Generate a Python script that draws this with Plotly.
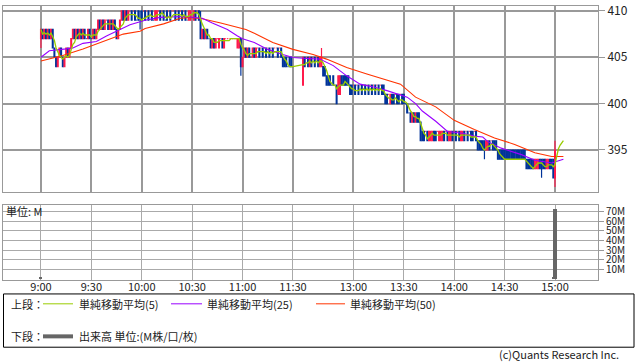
import plotly.graph_objects as go
import pandas as pd

W, H = 638, 362

# ---------------- data ----------------
# minute slots: morning 9:00-11:30 -> 0..150, afternoon 12:30-15:00 -> 156..306
morning_slots = list(range(0, 151))
afternoon_slots = list(range(156, 307))
slots = morning_slots + afternoon_slots

tick_vals = [0, 30, 60, 90, 120, 150, 186, 216, 246, 276, 306]
tick_text = ["9:00", "9:30", "10:00", "10:30", "11:00", "11:30",
             "13:00", "13:30", "14:00", "14:30", "15:00"]

opens = [
    407,408,407,408,407,408,407,408,406,405,
    404,405,406,405,404,405,406,405,406,407,
    408,407,408,407,408,407,408,407,407,408,
    407,407,408,407,408,409,408,409,408,409,
    409,408,409,408,409,408,407,408,409,410,
    409,410,409,410,410,410,410,409,410,409,
    410,410,410,410,410,410,410,409,409,409,
    410,410,410,410,409,410,410,410,410,410,
    410,410,410,410,410,410,410,409,409,409,
    410,409,410,410,410,409,407,408,407,408,
    407,407,406,407,406,407,406,407,407,406,
    407,407,407,407,407,407,407,406,406,407,
    404,405,406,405,406,405,405,406,405,406,
    406,406,406,406,406,406,406,406,406,406,
    406,406,406,406,405,405,405,404,405,405,
    404,
    402,405,405,405,404,405,405,405,405,405,
    404,404,404,404,403,403,403,402,403,402,
    402,401,401,403,403,403,403,403,402,402,
    402,402,402,402,402,402,402,402,402,402,
    402,402,402,402,402,402,402,402,402,401,
    401,401,400,401,401,401,401,401,401,401,
    401,400,400,399,399,398,399,398,399,399,
    398,397,397,397,397,396,396,396,397,397,
    397,396,396,396,397,397,397,396,396,397,
    397,397,397,397,396,396,397,397,397,397,
    397,397,397,397,396,396,396,396,396,395,
    395,396,396,396,396,396,395,395,395,395,
    395,395,395,395,395,395,395,395,395,395,
    395,395,395,394,394,394,394,394,393,393,
    393,394,394,394,394,393,393,394,394,394,
    392,
]

highs = [
    408,408,408,408,408,408,408,408,406,405,
    405,406,406,405,405,406,406,406,407,408,
    408,408,408,408,408,408,408,407,408,408,
    407,408,408,408,409,409,409,409,409,409,
    409,409,409,409,409,408,408,409,410,410,
    410,410,410,410,410,410,410,409,410,410,
    410,410,410,410,410,410,410,409,410,410,
    410,410,410,410,409,410,410,410,410,410,
    410,410,410,410,410,410,410,409,410,410,
    410,410,410,410,410,410,408,408,408,408,
    407,407,407,407,407,407,407,407,407,407,
    407,407,407,407,407,407,407,407,407,407,
    405,406,406,406,406,405,406,406,406,406,
    406,406,406,406,406,406,406,406,406,406,
    406,406,406,406,405,405,405,404,405,405,
    404,
    405,405,405,405,405,405,405,405,405,405,
    405,406,404,404,403,403,403,402,403,402,
    402,403,403,403,403,403,403,403,402,402,
    402,402,402,402,402,402,402,402,402,402,
    402,402,402,402,402,402,402,402,402,401,
    401,401,401,401,401,401,401,401,401,401,
    401,400,400,399,399,399,399,399,399,399,
    398,397,397,397,397,397,397,397,397,397,
    397,397,397,397,397,397,397,397,397,397,
    397,397,397,397,397,397,397,397,397,397,
    397,397,397,397,396,396,396,396,396,396,
    396,396,396,396,396,396,395,395,395,395,
    395,395,395,395,395,395,395,395,395,395,
    395,395,395,394,394,394,394,394,394,394,
    394,394,394,394,394,394,394,394,394,394,
    396,
]

lows = [
    406,407,407,407,407,407,407,406,405,404,
    404,405,405,404,404,405,405,405,406,407,
    407,407,407,407,407,407,407,407,407,407,
    407,407,407,407,408,408,408,408,408,409,
    408,408,408,408,408,407,407,408,409,409,
    409,409,409,410,409,410,409,409,409,408,
    409,410,409,410,409,410,409,409,409,409,
    410,409,410,409,409,409,410,409,410,410,
    409,410,409,410,409,410,409,409,409,409,
    410,409,409,410,409,407,407,407,407,407,
    407,406,406,406,406,407,406,407,406,406,
    407,407,407,407,407,407,407,406,406,403,
    404,405,405,405,405,405,405,405,405,406,
    405,406,405,406,405,406,405,406,405,406,
    406,405,406,405,404,404,404,404,404,404,
    404,
    402,404,405,404,404,404,405,404,405,404,
    404,404,403,403,402,402,402,402,402,402,
    400,401,401,402,402,402,402,402,401,401,
    402,401,402,401,402,401,402,401,402,401,
    402,401,402,401,402,401,402,401,401,400,
    400,401,400,400,400,401,400,400,401,400,
    400,400,399,399,398,398,398,398,398,398,
    396,396,396,397,396,396,396,396,396,396,
    397,396,396,396,396,397,396,396,396,396,
    397,396,397,396,396,396,396,397,396,397,
    396,396,397,396,395,395,395,395,394,395,
    395,395,396,395,395,395,394,394,394,394,
    394,394,394,394,394,394,394,394,394,394,
    394,394,394,393,393,393,393,393,393,393,
    393,393,392,393,393,393,393,393,393,392,
    391,
]

closes = [
    408,407,408,407,408,407,408,406,405,404,
    405,406,405,404,405,406,405,406,407,408,
    407,408,407,408,407,408,407,407,408,407,
    407,408,407,408,409,408,409,408,409,409,
    408,409,408,409,408,407,408,409,410,409,
    410,409,410,410,409,410,409,409,409,409,
    409,410,409,410,409,410,409,409,410,410,
    410,409,410,409,409,409,410,409,410,410,
    409,410,409,410,409,410,409,409,410,410,
    410,410,409,410,409,407,408,407,408,407,
    407,406,407,406,407,407,407,407,406,407,
    407,407,407,407,407,407,407,407,407,404,
    405,406,405,406,405,405,406,405,406,406,
    405,406,405,406,405,406,405,406,405,406,
    406,405,406,405,404,404,404,404,404,404,
    404,
    405,404,405,404,405,404,405,404,405,404,
    405,405,403,403,402,402,402,402,402,402,
    400,403,403,402,402,402,402,402,401,401,
    402,401,402,401,402,401,402,401,402,401,
    402,401,402,401,402,401,402,401,401,400,
    400,401,401,400,400,401,400,400,401,400,
    400,400,399,399,398,399,398,399,398,398,
    396,396,396,397,396,397,397,397,396,396,
    397,397,397,397,396,397,396,397,397,396,
    397,396,397,396,397,397,396,397,396,397,
    396,396,397,396,395,395,395,395,395,396,
    396,395,396,395,395,395,394,394,394,394,
    394,394,394,394,394,394,394,394,394,394,
    394,394,394,393,393,393,393,393,394,394,
    394,393,393,393,393,394,394,393,393,392,
    395,
]

# 5-period MA continues a few slots after the close
ma5_tail_slots = [307, 308, 309, 310, 311]
ma5_tail_vals = [394.3, 395.1, 395.5, 395.8, 396.0]

ma25_slots = [0, 5, 15, 19, 25, 33, 39, 47, 53, 62, 71, 85, 96, 102, 111, 117, 120,
              127, 135, 144, 150, 156, 166, 174, 182, 190, 198, 206, 214, 218, 223,
              227, 235, 242, 251, 258, 263, 266, 274, 286, 294, 304, 311]
ma25_vals = [405.0, 405.7, 405.9, 406.0, 406.5, 406.7, 407.3, 408.0, 408.5, 409.0,
             409.3, 409.4, 409.2, 408.7, 408.0, 407.3, 407.0, 406.6, 405.85, 405.3,
             404.97, 404.9, 404.8, 404.1, 403.0, 402.1, 401.8, 401.4, 400.9, 400.7,
             400.0, 399.2, 398.1, 397.0, 396.8, 396.5, 396.4, 395.9, 395.2, 394.5,
             393.9, 393.6, 394.0]

ma50_slots = [0, 13, 25, 37, 49, 59, 62, 73, 83, 89, 96, 107, 118, 122, 127, 138, 150,
              162, 170, 182, 194, 206, 214, 223, 235, 246, 258, 270, 282, 294, 304, 311]
ma50_vals = [404.6, 405.2, 405.9, 406.7, 407.5, 407.8, 408.1, 408.6, 409.2, 409.3,
             409.15, 408.7, 408.2, 408.0, 407.6, 406.6, 405.85, 405.3, 404.8, 403.9,
             403.2, 402.5, 402.1, 400.7, 399.65, 398.2, 397.2, 396.3, 395.6, 394.7,
             394.3, 394.3]

vol_slots = [0, 305, 306]
vol_values = [1.0, 2.0, 72.5]   # millions

price_ticks = [395, 400, 405, 410]
vol_ticks = [10, 20, 30, 40, 50, 60, 70]
vol_tick_text = ["10M", "20M", "30M", "40M", "50M", "60M", "70M"]

# ---------------- style ----------------
RED = "#ff1a4b"
BLUE = "#003399"
C5 = "#99cc00"
C25 = "#9900ff"
C50 = "#ff3300"
GRID = "#999999"
GRID2 = "#aaaaaa"
FONT = "Noto Sans CJK JP"
TXT = "#222222"


def px(x):
    return x / W


def py(y):
    return 1 - y / H


ma5 = pd.Series(closes).rolling(5, min_periods=1).mean().tolist()

fig = go.Figure()
fig.add_trace(go.Candlestick(
    x=slots, open=opens, high=highs, low=lows, close=closes,
    increasing=dict(line=dict(color=RED, width=1.2), fillcolor=RED),
    decreasing=dict(line=dict(color=BLUE, width=1.2), fillcolor=BLUE),
    whiskerwidth=0, xaxis="x", yaxis="y", showlegend=False, hoverinfo="skip"))
fig.add_trace(go.Scatter(x=ma50_slots, y=ma50_vals, mode="lines",
                         line=dict(color=C50, width=1.1), xaxis="x", yaxis="y",
                         showlegend=False, hoverinfo="skip"))
fig.add_trace(go.Scatter(x=ma25_slots, y=ma25_vals, mode="lines",
                         line=dict(color=C25, width=1.1), xaxis="x", yaxis="y",
                         showlegend=False, hoverinfo="skip"))
fig.add_trace(go.Scatter(x=slots + ma5_tail_slots, y=ma5 + ma5_tail_vals, mode="lines",
                         line=dict(color=C5, width=1.3), xaxis="x", yaxis="y",
                         showlegend=False, hoverinfo="skip"))
fig.add_trace(go.Bar(x=vol_slots, y=vol_values, width=1.8, marker_color="#666666",
                     marker_line_width=0, xaxis="x2", yaxis="y2",
                     showlegend=False, hoverinfo="skip"))

xr = [-22.6, 331.6]
common_x = dict(domain=[px(3), px(598)], range=xr, tickvals=tick_vals,
                showline=True, mirror=True, linecolor=GRID, linewidth=1,
                zeroline=False, ticks="", fixedrange=True)

fig.update_layout(
    width=W, height=H, autosize=False,
    margin=dict(l=0, r=0, t=0, b=0),
    paper_bgcolor="white", plot_bgcolor="white",
    font=dict(family=FONT, size=11, color=TXT),
    showlegend=False, hovermode=False, bargap=0,
    xaxis=dict(**common_x, anchor="y", showticklabels=False, showgrid=True,
               gridcolor=GRID, gridwidth=1.5, rangeslider=dict(visible=False)),
    yaxis=dict(domain=[py(190), py(1)], range=[390.43, 410.53], side="right",
               anchor="x", tickvals=price_ticks, ticks="outside", ticklen=6,
               tickcolor=GRID, showgrid=True, gridcolor=GRID, gridwidth=1.5,
               showline=True, mirror=True, linecolor=GRID, zeroline=False,
               ticklabeloverflow="allow",
               tickfont=dict(size=12, color=TXT), fixedrange=True),
    xaxis2=dict(**common_x, anchor="y2", ticktext=tick_text, showgrid=True,
                gridcolor=GRID2, gridwidth=1, ticklabelstandoff=-3,
                tickfont=dict(size=11, color=TXT)),
    yaxis2=dict(domain=[py(279), py(203)], range=[-1.3, 76.9], side="right",
                anchor="x2", tickvals=vol_ticks, ticktext=vol_tick_text,
                ticks="outside", ticklen=5, tickcolor=GRID, showgrid=True,
                gridcolor=GRID2, gridwidth=1, showline=True, mirror=True,
                linecolor=GRID, zeroline=False,
                tickfont=dict(size=10, color=TXT), fixedrange=True),
)

shapes = [
    dict(type="rect", xref="paper", yref="paper", x0=px(3.5), x1=px(634),
         y0=py(347), y1=py(293), line=dict(color="#000000", width=1)),
    dict(type="line", xref="paper", yref="paper", x0=px(43), x1=px(73),
         y0=py(303), y1=py(303), line=dict(color=C5, width=1)),
    dict(type="line", xref="paper", yref="paper", x0=px(171), x1=px(202),
         y0=py(303), y1=py(303), line=dict(color=C25, width=1)),
    dict(type="line", xref="paper", yref="paper", x0=px(316), x1=px(345),
         y0=py(303), y1=py(303), line=dict(color=C50, width=1)),
    dict(type="line", xref="paper", yref="paper", x0=px(43), x1=px(73),
         y0=py(336), y1=py(336), line=dict(color="#666666", width=4)),
]

def label(x, y, text, anchor="left", size=11):
    return dict(x=px(x), y=py(y), xref="paper", yref="paper", text=text,
                showarrow=False, xanchor=anchor, yanchor="middle",
                font=dict(family=FONT, size=size, color=TXT))

annotations = [
    label(4, 209, "単位: M"),
    label(9, 303, "上段："),
    label(77, 303, "単純移動平均(5)"),
    label(205, 303, "単純移動平均(25)"),
    label(348, 303, "単純移動平均(50)"),
    label(9, 336, "下段："),
    label(77, 336, "出来高 単位:(M株/口/枚)"),
    label(621, 354, "(c)Quants Research Inc.", anchor="right"),
]

fig.update_layout(shapes=shapes, annotations=annotations)
fig.write_html("out.html", config={"displayModeBar": False},
               post_script="document.body.style.margin='0';document.body.style.overflow='hidden';")
